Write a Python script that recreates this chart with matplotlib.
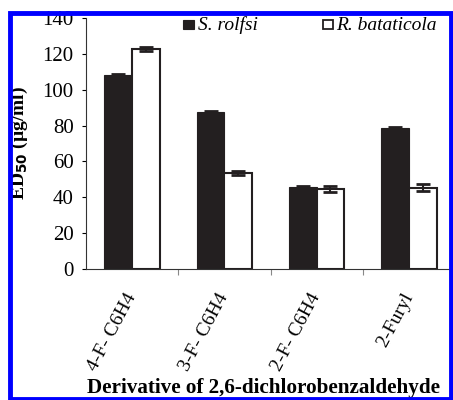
import numpy as np
import matplotlib
matplotlib.use("Agg")
import matplotlib.pyplot as plt
from matplotlib.patches import Rectangle

# ED50 values
derivatives = ["4-F- C6H4", "3-F- C6H4", "2-F- C6H4", "2-Furyl"]
s_rolfsi = [108, 87.5, 45.5, 78.5]
s_rolfsi_err = [0.8, 0.6, 0.6, 0.6]
r_bataticola = [122.8, 53.5, 44.6, 45.3]
r_bataticola_err = [1.0, 1.0, 1.5, 2.0]
series_names = ["S. rolfsi", "R. bataticola"]

plt.rcParams["font.family"] = ["Liberation Serif", "DejaVu Serif"]

W, H = 453, 400
fig = plt.figure(figsize=(W / 100, H / 100), dpi=100)
ax = fig.add_axes([86 / W, 1 - 269 / H, 369 / W, 251 / H])


def px(xp, yp):
  # pixel position from top-left -> figure fraction
  return xp / W, 1 - yp / H


x = np.arange(len(derivatives))
w = 0.3
dark = "#231f20"
ax.bar(x - w / 2, s_rolfsi, w, color=dark, edgecolor=dark, linewidth=0.8, zorder=2)
ax.bar(x + w / 2, r_bataticola, w, color="white", edgecolor=dark, linewidth=1.5, zorder=2)
ax.errorbar(x - w / 2, s_rolfsi, yerr=s_rolfsi_err, fmt="none", ecolor=dark,
            elinewidth=1.5, capsize=5, capthick=2, zorder=3)
ax.errorbar(x + w / 2, r_bataticola, yerr=r_bataticola_err, fmt="none", ecolor=dark,
            elinewidth=1.5, capsize=5, capthick=2, zorder=3)

ax.set_xlim(-0.5, 3.5)
ax.set_ylim(0, 140)
ax.set_yticks(range(0, 141, 20))
ax.tick_params(axis="y", direction="out", length=3, width=0.8, pad=6, labelsize=15)
ax.set_xticks(x)
ax.set_xticklabels(derivatives, rotation=62, ha="right", va="center", rotation_mode="anchor", fontsize=14)
ax.tick_params(axis="x", which="major", length=0, pad=18)
ax.set_xticks([0.5, 1.5, 2.5], minor=True)
ax.tick_params(axis="x", which="minor", length=4, color="#888888", width=0.8)
for s in ["top", "right"]:
  ax.spines[s].set_visible(False)
ax.spines["left"].set_color("#333333")
ax.spines["bottom"].set_color("#333333")

# legend drawn by hand at the top
fig.add_artist(Rectangle(px(183, 29), 11 / W, 9 / H, transform=fig.transFigure,
                         facecolor=dark, edgecolor=dark, linewidth=0.8))
fig.add_artist(Rectangle(px(322.5, 28.5), 10 / W, 8.5 / H, transform=fig.transFigure,
                         facecolor="white", edgecolor=dark, linewidth=1.3))
fig.text(*px(198, 30.5), series_names[0], ha="left", va="baseline", fontsize=14, style="italic")
fig.text(*px(336, 30.5), series_names[1], ha="left", va="baseline", fontsize=14, style="italic")

fig.text(*px(19.5, 143), "ED$_{\\mathbf{50}}$ (µg/ml)", rotation=90, ha="center", va="center",
         fontsize=14, fontweight="bold")
fig.text(*px(87, 393), "Derivative of 2,6-dichlorobenzaldehyde", ha="left", va="baseline",
         fontsize=15.2, fontweight="bold")

# blue frame
fig.add_artist(Rectangle((0, 1 - 10 / H), 1, 10 / H, transform=fig.transFigure,
                         facecolor="white", edgecolor="none", zorder=10))
fig.add_artist(Rectangle(px(9.5, 398.5), 441 / W, 386 / H, transform=fig.transFigure,
                         facecolor="none", edgecolor="#0000ff", linewidth=3.5, zorder=11))

fig.savefig("out.png", dpi=100)
